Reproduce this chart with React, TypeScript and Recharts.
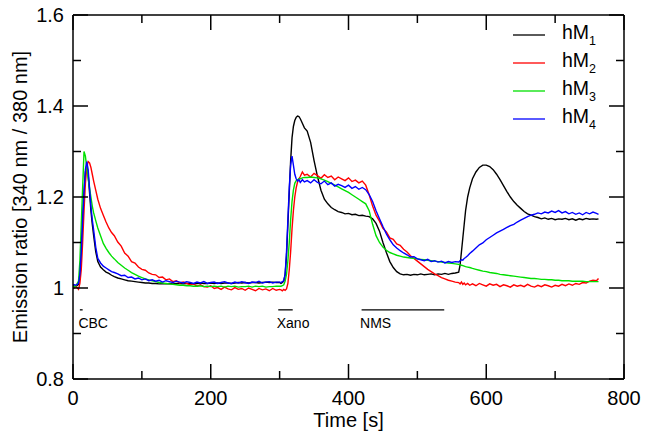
import React from "react";
import {
  LineChart,
  Line,
  XAxis,
  YAxis,
  Legend,
  Label,
  ReferenceLine,
} from "recharts";

const FONT = "'Liberation Sans', Arial, Helvetica, sans-serif";

// sample times [s]
const time = [
  0, 4, 8, 10, 12, 14, 16, 18, 20, 22, 24, 26, 28, 30,
  33, 36, 40, 44, 48, 52, 56,
  60, 65, 70, 75, 80, 85, 90, 95, 100, 105,
  110, 115, 120, 125, 130, 135, 140, 145, 150, 155,
  160, 165, 170, 175, 180, 185, 190, 195, 200, 205,
  210, 215, 220, 225, 230, 235, 240, 245, 250, 255,
  260, 265, 270, 275, 280, 285, 290, 295, 300,
  302, 304, 306, 308, 310, 312, 314, 316, 318, 320, 322, 324, 326, 328, 330,
  333, 336,
  340, 345, 350, 355, 360, 365, 370, 375, 380, 385,
  390, 395, 400, 405, 410, 415, 420, 425, 430, 435,
  440, 445, 450, 455, 460, 465, 470, 475, 480, 485,
  490, 495, 500, 505, 510, 515, 520, 525, 530, 535,
  540, 545, 550, 555,
  560, 562, 564, 566, 568, 570,
  573, 576,
  580, 585, 590, 595, 600, 605, 610, 615, 620, 625,
  630, 635, 640, 645, 650, 655, 660, 665, 670, 675,
  680, 685, 690, 695, 700, 705, 710, 715, 720, 725,
  730, 735, 740, 745, 750, 755, 760,
  763,
];

const hM1 = [
  1.005, 1.003, 1.008, 1.03, 1.08, 1.15, 1.21, 1.255, 1.27, 1.25, 1.21, 1.17, 1.14, 1.115,
  1.08, 1.058, 1.046, 1.04, 1.035, 1.032, 1.028,
  1.025, 1.022, 1.02, 1.018, 1.016, 1.015, 1.014, 1.013, 1.012, 1.011,
  1.011, 1.01, 1.01, 1.009, 1.01, 1.009, 1.01, 1.009, 1.01, 1.01,
  1.009, 1.01, 1.01, 1.009, 1.01, 1.011, 1.01, 1.01, 1.011, 1.01,
  1.011, 1.01, 1.011, 1.011, 1.01, 1.011, 1.012, 1.011, 1.012, 1.011,
  1.012, 1.012, 1.011, 1.012, 1.013, 1.012, 1.013, 1.012, 1.012,
  1.01, 1.012, 1.015, 1.03, 1.07, 1.14, 1.21, 1.28, 1.33, 1.355, 1.368, 1.375, 1.378, 1.377, 1.372,
  1.362, 1.352,
  1.345, 1.32, 1.28, 1.245, 1.215, 1.195, 1.185, 1.177, 1.172, 1.168,
  1.166, 1.163, 1.164, 1.161, 1.162, 1.159, 1.16, 1.158, 1.157, 1.152,
  1.142, 1.125, 1.1, 1.078, 1.058, 1.045, 1.036, 1.031, 1.029, 1.03,
  1.028, 1.03, 1.029, 1.031, 1.029, 1.03, 1.031, 1.029, 1.031, 1.03,
  1.032, 1.03, 1.032, 1.033,
  1.035, 1.05, 1.08, 1.11, 1.14, 1.17,
  1.2, 1.22,
  1.24, 1.255, 1.265, 1.27, 1.27, 1.267, 1.26, 1.25, 1.238, 1.225,
  1.212, 1.2, 1.19, 1.182, 1.175, 1.168, 1.163, 1.16, 1.157, 1.155,
  1.152, 1.154, 1.151, 1.153, 1.15, 1.152, 1.151, 1.153, 1.15, 1.152,
  1.149, 1.152, 1.15, 1.153, 1.151, 1.152, 1.151,
  1.152,
];

const hM2 = [
  0.998, 1.004, 0.997, 1.01, 1.04, 1.1, 1.17, 1.23, 1.265, 1.278, 1.275, 1.265, 1.25, 1.235,
  1.215, 1.195, 1.175, 1.16, 1.145, 1.132, 1.122,
  1.115, 1.101, 1.092, 1.077, 1.07, 1.058, 1.055, 1.046, 1.041, 1.039,
  1.033, 1.03, 1.029, 1.023, 1.024, 1.018, 1.02, 1.014, 1.016, 1.011,
  1.013, 1.01, 1.007, 1.009, 1.004, 1.007, 1.003, 1.002, 1.005, 0.999,
  1.001, 0.997, 1.002, 0.998, 0.996, 1.001, 0.997, 0.999, 0.995, 1.0,
  0.997, 0.994, 0.999, 0.996, 0.998, 0.994, 0.999, 0.995, 0.997,
  0.996, 0.994, 0.997, 0.995, 0.998, 1.01, 1.04, 1.08, 1.13, 1.17, 1.2, 1.22, 1.233, 1.24, 1.245,
  1.255, 1.248,
  1.25, 1.244, 1.252, 1.247, 1.241, 1.249, 1.243, 1.246, 1.238, 1.244,
  1.24, 1.236, 1.242, 1.234, 1.237, 1.231, 1.235, 1.226, 1.205, 1.18,
  1.16, 1.147, 1.131, 1.123, 1.11, 1.107, 1.097, 1.094, 1.085, 1.079,
  1.071, 1.065, 1.059, 1.053, 1.047, 1.041, 1.036, 1.031, 1.027, 1.023,
  1.02, 1.017, 1.015, 1.013,
  1.012, 1.009, 1.013, 1.008, 1.011, 1.007,
  1.01, 1.006,
  1.009, 1.005, 1.01, 1.007, 1.004, 1.009, 1.006, 1.008, 1.003, 1.007,
  1.005, 1.002, 1.007, 1.004, 1.006, 1.003, 1.008, 1.004, 1.002, 1.006,
  1.003, 1.007, 1.005, 1.002, 1.006, 1.004, 1.008, 1.005, 1.009, 1.006,
  1.01, 1.008, 1.012, 1.011, 1.015, 1.017, 1.016,
  1.021,
];

const hM3 = [
  1.002, 1.004, 1.015, 1.06, 1.14, 1.22, 1.3, 1.29, 1.265, 1.24, 1.22, 1.2, 1.18, 1.165,
  1.148, 1.132, 1.115, 1.098, 1.087, 1.078, 1.07,
  1.064, 1.056, 1.05, 1.044, 1.039, 1.034, 1.03, 1.026, 1.023, 1.02,
  1.018, 1.016, 1.014, 1.012, 1.011, 1.01, 1.009, 1.008, 1.007, 1.006,
  1.006, 1.005, 1.005, 1.004, 1.004, 1.005, 1.003, 1.004, 1.003, 1.004,
  1.003, 1.004, 1.002, 1.004, 1.003, 1.004, 1.002, 1.003, 1.003, 1.004,
  1.002, 1.004, 1.003, 1.004, 1.002, 1.003, 1.003, 1.004, 1.004,
  1.004, 1.005, 1.007, 1.015, 1.03, 1.06, 1.1, 1.15, 1.19, 1.215, 1.23, 1.236, 1.238, 1.24, 1.24,
  1.242, 1.243,
  1.243, 1.244, 1.243, 1.242, 1.24, 1.237, 1.234, 1.23, 1.226, 1.222,
  1.218, 1.214, 1.21, 1.205, 1.2, 1.195, 1.19, 1.185, 1.17, 1.14,
  1.115, 1.1, 1.09, 1.083, 1.078, 1.075, 1.072, 1.07, 1.068, 1.067,
  1.066, 1.065, 1.064, 1.063, 1.062, 1.061, 1.06, 1.059, 1.058, 1.057,
  1.056, 1.055, 1.054, 1.053,
  1.052, 1.051, 1.05, 1.049, 1.048, 1.047,
  1.046, 1.045,
  1.043, 1.041, 1.039, 1.037, 1.036, 1.034, 1.033, 1.032, 1.03, 1.029,
  1.028, 1.027, 1.026, 1.025, 1.024, 1.023, 1.022, 1.021, 1.021, 1.02,
  1.019, 1.019, 1.018, 1.018, 1.017, 1.017, 1.016, 1.016, 1.016, 1.015,
  1.015, 1.015, 1.015, 1.014, 1.014, 1.014, 1.014,
  1.014,
];

const hM4 = [
  1.008, 1.006, 1.01, 1.03, 1.08, 1.15, 1.21, 1.26, 1.278, 1.26, 1.22, 1.18, 1.15, 1.127,
  1.09, 1.065, 1.055, 1.048, 1.044, 1.04, 1.036,
  1.034, 1.031, 1.027, 1.028, 1.023, 1.024, 1.02, 1.022, 1.018, 1.02,
  1.016, 1.018, 1.015, 1.017, 1.013, 1.016, 1.014, 1.012, 1.015, 1.013,
  1.011, 1.014, 1.012, 1.01, 1.013, 1.011, 1.014, 1.01, 1.012, 1.013,
  1.01, 1.012, 1.014, 1.011, 1.01, 1.013, 1.011, 1.014, 1.012, 1.01,
  1.013, 1.012, 1.015, 1.011, 1.013, 1.014, 1.011, 1.013, 1.013,
  1.012, 1.014, 1.016, 1.03, 1.08, 1.15, 1.22, 1.27, 1.29, 1.27, 1.25, 1.24, 1.235, 1.238, 1.232,
  1.238, 1.233,
  1.236, 1.231, 1.238, 1.232, 1.229, 1.235, 1.227, 1.231, 1.224, 1.228,
  1.225, 1.221, 1.226, 1.219, 1.223, 1.217, 1.221, 1.216, 1.205, 1.19,
  1.17, 1.152, 1.135, 1.119, 1.106, 1.095, 1.088, 1.082, 1.077, 1.073,
  1.068, 1.069, 1.064, 1.062, 1.06, 1.063, 1.058, 1.06, 1.057, 1.059,
  1.055, 1.058, 1.056, 1.058,
  1.057, 1.06, 1.062, 1.061, 1.065, 1.067,
  1.071, 1.076,
  1.081, 1.088, 1.095, 1.099, 1.106, 1.111, 1.116, 1.121, 1.125, 1.129,
  1.133, 1.137, 1.14, 1.145, 1.149, 1.153, 1.157, 1.16, 1.162, 1.165,
  1.163, 1.167, 1.165, 1.169, 1.166, 1.17, 1.165, 1.168, 1.163, 1.166,
  1.162, 1.165, 1.161, 1.166, 1.163, 1.167, 1.164,
  1.162,
];

const seriesNames = ["hM1", "hM2", "hM3", "hM4"];
const seriesColors = ["#000000", "#ff0000", "#00e000", "#0000ff"];

// drug application bars
const marks = [
  { label: "CBC", start: 10, end: 14 },
  { label: "Xano", start: 298, end: 319 },
  { label: "NMS", start: 419, end: 539 },
];
const markLevel = 0.952;

const xTicks = [0, 100, 200, 300, 400, 500, 600, 700, 800];
const yTicks = [0.8, 0.9, 1, 1.1, 1.2, 1.3, 1.4, 1.5, 1.6];

const data = time.map((t, i) => ({
  t,
  hM1: hM1[i],
  hM2: hM2[i],
  hM3: hM3[i],
  hM4: hM4[i],
}));

const MAJOR = 15;
const MINOR = 8;
const TICK_FONT = 20;

const isMajorX = (v: number) => v % 200 === 0;
const isMajorY = (v: number) => Math.round(v * 10) % 2 === 0;

function BottomTick({ x, y, payload }: any) {
  const major = isMajorX(payload.value);
  return (
    <g>
      <line x1={x} x2={x} y1={y} y2={y - (major ? MAJOR : MINOR)} stroke="#000" strokeWidth={1.5} />
      {major && (
        <text x={x} y={y + 26} textAnchor="middle" fontSize={TICK_FONT} fontFamily={FONT} fill="#000">
          {payload.value}
        </text>
      )}
    </g>
  );
}

function TopTick({ x, y, payload }: any) {
  const major = isMajorX(payload.value);
  return <line x1={x} x2={x} y1={y} y2={y + (major ? MAJOR : MINOR)} stroke="#000" strokeWidth={1.5} />;
}

function LeftTick({ x, y, payload }: any) {
  const major = isMajorY(payload.value);
  return (
    <g>
      <line x1={x} x2={x + (major ? MAJOR : MINOR)} y1={y} y2={y} stroke="#000" strokeWidth={1.5} />
      {major && (
        <text x={x - 9} y={y} dy="0.36em" textAnchor="end" fontSize={TICK_FONT} fontFamily={FONT} fill="#000">
          {String(Number(payload.value.toFixed(1)))}
        </text>
      )}
    </g>
  );
}

function RightTick({ x, y, payload }: any) {
  const major = isMajorY(payload.value);
  return <line x1={x} x2={x - (major ? MAJOR : MINOR)} y1={y} y2={y} stroke="#000" strokeWidth={1.5} />;
}

function renderLegend({ payload }: any) {
  const items = (payload || []).filter(
    (entry: any) => entry.type !== "none" && seriesNames.includes(String(entry.value))
  );
  return (
    <svg width={130} height={120}>
      {items.map((entry: any, i: number) => {
        const name = String(entry.value);
        return (
          <g key={name}>
            <line x1={8} x2={40} y1={17 + i * 28} y2={17 + i * 28} stroke={entry.color} strokeWidth={1.3} />
            <text x={57} y={20.5 + i * 28} fontSize={19.5} fontFamily={FONT} fill="#000">
              {name.slice(0, 2)}
              <tspan fontSize={12.5} dy={6.5}>
                {name.slice(2)}
              </tspan>
            </text>
          </g>
        );
      })}
    </svg>
  );
}

const yTitle = ({ viewBox }: any) => {
  const cx = 20;
  const cy = viewBox.y + viewBox.height / 2;
  return (
    <text
      x={cx}
      y={cy}
      transform={`rotate(-90 ${cx} ${cy})`}
      textAnchor="middle"
      dy="0.36em"
      fontSize={20}
      fontFamily={FONT}
      fill="#000"
    >
      Emission ratio [340 nm / 380 nm]
    </text>
  );
};

const markLabel = (text: string) => ({ viewBox }: any) => (
  <text x={viewBox.x - 1.5} y={viewBox.y + 18} fontSize={14} fontFamily={FONT} fill="#000">
    {text}
  </text>
);

export default function App() {
  return (
    <div style={{ position: "absolute", left: 0, top: 0, background: "#fff" }}>
      <LineChart width={648} height={439} data={data} margin={{ top: 14, right: 23, bottom: 0, left: 0 }}>
        <XAxis
          dataKey="t"
          type="number"
          domain={[0, 800]}
          ticks={xTicks}
          interval={0}
          allowDataOverflow
          height={60}
          tickSize={0}
          tickMargin={0}
          tickLine={false}
          tick={BottomTick}
          axisLine={{ stroke: "#000", strokeWidth: 1.5 }}
        >
          <Label value="Time [s]" position="insideBottom" offset={12} fontSize={20} fontFamily={FONT} fill="#000" />
        </XAxis>
        <XAxis
          xAxisId="top"
          orientation="top"
          dataKey="t"
          type="number"
          domain={[0, 800]}
          ticks={xTicks}
          interval={0}
          allowDataOverflow
          height={1}
          tickSize={0}
          tickMargin={0}
          tickLine={false}
          tick={TopTick}
          axisLine={{ stroke: "#000", strokeWidth: 1.5 }}
        />
        <YAxis
          type="number"
          domain={[0.8, 1.6]}
          ticks={yTicks}
          interval={0}
          allowDataOverflow
          width={73}
          tickSize={0}
          tickMargin={0}
          tickLine={false}
          tick={LeftTick}
          axisLine={{ stroke: "#000", strokeWidth: 1.5 }}
          label={{ content: yTitle }}
        />
        <YAxis
          yAxisId="right"
          orientation="right"
          type="number"
          domain={[0.8, 1.6]}
          ticks={yTicks}
          interval={0}
          allowDataOverflow
          width={1}
          tickSize={0}
          tickMargin={0}
          tickLine={false}
          tick={RightTick}
          axisLine={{ stroke: "#000", strokeWidth: 1.5 }}
        />
        {marks.map((m) => (
          <ReferenceLine
            key={m.label}
            segment={[
              { x: m.start, y: markLevel },
              { x: m.end, y: markLevel },
            ]}
            stroke="#000"
            strokeWidth={1.3}
            label={markLabel(m.label)}
          />
        ))}
        {seriesNames.map((name, i) => (
          <Line
            key={name}
            dataKey={name}
            name={name}
            type="linear"
            stroke={seriesColors[i]}
            strokeWidth={1.4}
            dot={false}
            isAnimationActive={false}
          />
        ))}
        <Line
          xAxisId="top"
          yAxisId="right"
          dataKey="hM1"
          name="frame"
          stroke="none"
          dot={false}
          legendType="none"
          isAnimationActive={false}
        />
        <Legend
          layout="vertical"
          align="center"
          verticalAlign="middle"
          content={renderLegend}
          wrapperStyle={{ position: "absolute", left: 505, top: 18, width: 130, height: 120 }}
        />
      </LineChart>
    </div>
  );
}
